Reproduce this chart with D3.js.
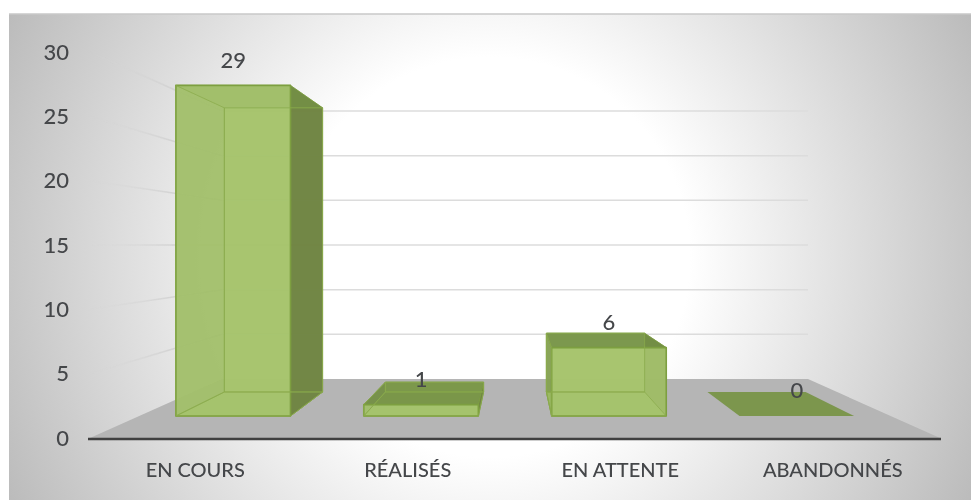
<!DOCTYPE html>
<html>
<head>
<meta charset="utf-8">
<script src="https://cdn.jsdelivr.net/npm/d3@7"></script>
<style>
  html, body { margin: 0; padding: 0; background: #fff; }
  svg { display: block; }
  text { font-family: Lato, "Open Sans", sans-serif; fill: #44464a; }
</style>
</head>
<body>
<div id="chart"></div>
<script>
// Data
const categories = ["EN COURS", "RÉALISÉS", "EN ATTENTE", "ABANDONNÉS"];
const values = [29, 1, 6, 0];
const yTicks = [0, 5, 10, 15, 20, 25, 30];

const width = 971;
const height = 500;

const svg = d3.select("#chart")
    .append("svg")
    .attr("width", width)
    .attr("height", height);

const defs = svg.append("defs");

// Background gradient, white in the middle and grey at the corners
const bg = defs.append("radialGradient")
    .attr("id", "bg")
    .attr("gradientUnits", "userSpaceOnUse")
    .attr("cx", 490).attr("cy", 257).attr("r", 540);
bg.append("stop").attr("offset", 0.37).attr("stop-color", "#ffffff");
bg.append("stop").attr("offset", 1).attr("stop-color", "#bbbbbb");

// Side wall lines fade out towards the labels
const fade = defs.append("linearGradient")
    .attr("id", "fade")
    .attr("gradientUnits", "userSpaceOnUse")
    .attr("x1", 90).attr("y1", 0).attr("x2", 222).attr("y2", 0);
fade.append("stop").attr("offset", 0).attr("stop-color", "#d8d8d8").attr("stop-opacity", 0);
fade.append("stop").attr("offset", 0.7).attr("stop-color", "#d0d0d0").attr("stop-opacity", 1);

defs.append("filter")
    .attr("id", "soft")
    .attr("x", "-2%").attr("y", "-2%").attr("width", "104%").attr("height", "104%")
    .append("feGaussianBlur")
    .attr("stdDeviation", 0.55);

svg.append("rect")
    .attr("x", 9).attr("y", 14)
    .attr("width", width - 9).attr("height", height - 14)
    .attr("fill", "url(#bg)");

svg.append("line")
    .attr("x1", 9).attr("x2", width)
    .attr("y1", 14).attr("y2", 14)
    .attr("stroke", "#c8c8c8")
    .attr("stroke-width", 1.5);

const g = svg.append("g").attr("filter", "url(#soft)");

// Scales: the front plane and the back wall of the 3D box
const xFront = d3.scaleLinear().domain([0, 1]).range([90, 940]);
const xBack = d3.scaleLinear().domain([0, 1]).range([222, 808]);
const yFront = d3.scaleLinear().domain([0, 30]).range([438, 52]);
const yBack = d3.scaleLinear().domain([0, 30]).range([379, 111]);

const band = d3.scaleBand()
    .domain(categories)
    .range([0, 1])
    .paddingInner(0.39)
    .paddingOuter(0.195);

// u across, v value, t depth (0 front, 1 back)
function project(u, v, t) {
    const x = d3.interpolateNumber(xFront(u), xBack(u))(t);
    const y = d3.interpolateNumber(yFront(v), yBack(v))(t);
    return [x, y];
}

const line = d3.line();

// Floor
g.append("path")
    .attr("d", line([project(0, 0, 0), project(1, 0, 0), project(1, 0, 1), project(0, 0, 1)]) + "Z")
    .attr("fill", "#b5b5b5");

// Grid lines on the back wall and the side wall
const gridTicks = yTicks.filter(d => d > 0);

g.selectAll(".grid-back")
    .data(gridTicks)
    .enter()
    .append("path")
    .attr("class", "grid-back")
    .attr("d", d => line([project(0, d, 1), project(1, d, 1)]))
    .attr("stroke", "#dcdcdc")
    .attr("stroke-width", 1.5)
    .attr("fill", "none");

g.selectAll(".grid-side")
    .data(gridTicks)
    .enter()
    .append("path")
    .attr("class", "grid-side")
    .attr("d", d => line([project(0, d, 0), project(0, d, 1)]))
    .attr("stroke", "url(#fade)")
    .attr("stroke-width", 1.5)
    .attr("fill", "none");

// Bars, depth range of the columns inside the box
const depthNear = 0.373;
const depthFar = 0.78;

const bars = categories.map((c, i) => ({ c: c, v: values[i] }));

function face(d, corners) {
    const x0 = band(d.c);
    const x1 = x0 + band.bandwidth();
    return line(corners.map(p => project(p[0] ? x1 : x0, p[1] ? d.v : 0, p[2] ? depthFar : depthNear))) + "Z";
}

const faces = [
    { name: "back",   pts: [[0,0,1],[1,0,1],[1,1,1],[0,1,1]], fill: "#a8c66f", op: 0.9 },
    { name: "left",   pts: [[0,0,0],[0,0,1],[0,1,1],[0,1,0]], fill: "#6f8a42", op: 0.6 },
    { name: "bottom", pts: [[0,0,0],[1,0,0],[1,0,1],[0,0,1]], fill: "#9cbc60", op: 0.9 },
    { name: "right",  pts: [[1,0,0],[1,0,1],[1,1,1],[1,1,0]], fill: "#6b8040", op: 0.9 },
    { name: "top",    pts: [[0,1,0],[1,1,0],[1,1,1],[0,1,1]], fill: "#738f45", op: 0.85 },
    { name: "front",  pts: [[0,0,0],[1,0,0],[1,1,0],[0,1,0]], fill: "#a6c46d", op: 0.88 }
];

const barG = g.selectAll(".bar")
    .data(bars)
    .enter()
    .append("g")
    .attr("class", "bar");

faces.forEach(f => {
    barG.filter(d => d.v > 0)
        .append("path")
        .attr("d", d => face(d, f.pts))
        .attr("fill", f.fill)
        .attr("fill-opacity", f.op)
        .attr("stroke", "#7d9f3f")
        .attr("stroke-opacity", f.name === "front" ? 1 : 0.6)
        .attr("stroke-width", f.name === "front" ? 1.6 : 1)
        .attr("stroke-linejoin", "round");
});

// Hidden edges show through the see-through front face
faces.slice(0, 3).forEach(f => {
    barG.filter(d => d.v > 0)
        .append("path")
        .attr("d", d => face(d, f.pts))
        .attr("fill", "none")
        .attr("stroke", "#8bab4e")
        .attr("stroke-opacity", 0.75)
        .attr("stroke-width", 1);
});

// A zero value is just a flat plate on the floor
barG.filter(d => d.v === 0)
    .append("path")
    .attr("d", d => face(d, faces[2].pts))
    .attr("fill", "#7c964e");

// Axis line
g.append("line")
    .attr("x1", 88).attr("x2", 941)
    .attr("y1", 439).attr("y2", 439)
    .attr("stroke", "#3f3f3f")
    .attr("stroke-width", 2.4);

// Value axis
const yAxis = g.append("g")
    .attr("transform", "translate(72,0)")
    .call(d3.axisLeft(yFront).tickValues(yTicks).tickSize(0).tickPadding(3));
yAxis.select(".domain").remove();
yAxis.selectAll("text")
    .style("font-size", "22px")
    .style("font-family", "Lato, sans-serif")
    .style("font-weight", 500)
    .attr("fill", "#44464a");

// Category axis
const xLabels = d3.scaleBand().domain(categories).range(xFront.range());
const xAxis = g.append("g")
    .attr("transform", "translate(-1,460)")
    .call(d3.axisBottom(xLabels).tickSize(0).tickPadding(3));
xAxis.select(".domain").remove();
xAxis.selectAll("text")
    .style("font-size", "20px")
    .style("font-family", "Lato, sans-serif")
    .style("font-weight", 500)
    .attr("fill", "#44464a");

// Value labels
g.selectAll(".value")
    .data(bars)
    .enter()
    .append("text")
    .attr("class", "value")
    .attr("x", d => project(band(d.c) + band.bandwidth() / 2, d.v, depthNear)[0])
    .attr("y", d => project(band(d.c) + band.bandwidth() / 2, d.v, depthNear)[1] - 25.5)
    .attr("dy", "0.35em")
    .attr("text-anchor", "middle")
    .style("font-size", "22px")
    .style("font-weight", 500)
    .text(d => d.v);
</script>
</body>
</html>
